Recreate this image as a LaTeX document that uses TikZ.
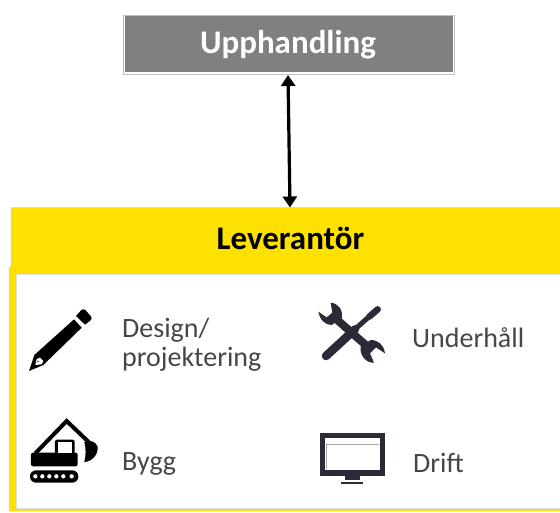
\documentclass[tikz,border=0pt]{standalone}
\usepackage{fontspec}
\setmainfont{Carlito}
\usetikzlibrary{arrows.meta}
\definecolor{yel}{HTML}{FFE100}
\definecolor{ink}{HTML}{2B2B38}
\tikzset{
  lbl/.style={font=\fontsize{28}{33}\selectfont, text=black!72, anchor=west, align=left, inner sep=0pt},
  ttl/.style={font=\fontsize{33}{38}\selectfont\bfseries, inner sep=0pt},
  link/.style={line width=3.2pt, {Triangle[length=11pt,width=14pt]}-{Triangle[length=11pt,width=14pt]}},
  zl/.style={x=0.333333pt,y=-0.333333pt,shift={(0pt,-290pt)}},
  zr/.style={x=0.333333pt,y=-0.333333pt,shift={(300pt,-290pt)}}
}
\begin{document}
\begin{tikzpicture}[x=1pt,y=-1pt]
\useasboundingbox (0,0) rectangle (560,512);
% top box
\node[draw=black!25, line width=0.7pt, fill=white, minimum width=331pt, minimum height=59pt, inner sep=0pt, anchor=north west] (upframe) at (123,15) {};
\node[fill=black!50, minimum width=328pt, minimum height=56pt, inner sep=0pt, anchor=north west] (up) at (124.5,16) {};
\node[ttl, text=white] (uptxt) at (288,45) {Upphandling};
% yellow panel
\fill[yel, draw=black!18, line width=0.5pt] (9,268) -- (11,266) -- (11,207.5) -- (561,207.5) -- (561,511) -- (9,511) -- cycle;
\node[fill=white, draw=black!12, line width=0.5pt, minimum width=546pt, minimum height=234pt, inner sep=0pt, anchor=north west] (inner) at (16,274) {};
\node[ttl, text=black] (lev) at (290.5,238) {Leverantör};
\coordinate (upb) at (288,75);
\coordinate (levt) at (290,207.5);
\draw[link] (upb) -- (levt);
% labels
\node[lbl] (t1) at (122,344.5) {Design/\\[-3.5pt]projektering};
\node[lbl] (t2) at (412,338) {Underhåll};
\node[lbl] (t3) at (122,463.5) {Bygg};
\node[lbl] (t4) at (413,463) {Drift};
% pencil
\begin{scope}[zl]
\fill[black] (87,243) -- (103,195) -- (222,88) -- (245,113) -- (130,225) -- cycle;
\fill[black] (228,78) -- (244,60) .. controls (248,57) and (252,57) .. (256,60) -- (272,78) .. controls (276,83) and (276,87) .. (272,91) -- (255,104) -- cycle;
\fill[white] (106,225) -- (110,207) -- (120,203) -- (130,213) -- (125,223) -- cycle;
\fill[black] (114,214) circle (2.5);
% excavator
\draw[black, line width=4pt, line join=miter] (106,490) -- (200,393) -- (268,458);
\fill[black] (253,456) .. controls (270,450) and (285,452) .. (293,470) .. controls (295,495) and (275,515) .. (253,516) .. controls (258,495) and (258,475) .. (253,456) -- cycle;
\fill[black, rounded corners=2pt] (93,488) rectangle (233,529);
\fill[black, rounded corners=2pt] (165,449) rectangle (224,492);
\fill[white] (175,457) rectangle (217,488);
\fill[black, rounded corners=6pt] (90,541) rectangle (235,578);
\foreach \cx in {106,127,148,169,190,215} \fill[white] (\cx,559) circle (6.5);
\end{scope}
% tools
\begin{scope}[zr]
\draw[ink, line width=8.5pt, line cap=round] (78,198) -- (165,118);
\draw[ink, line width=5pt] (160,122) -- (205,82);
\draw[ink, line width=6.5pt, line cap=round] (208,80) -- (233,58);
\draw[ink, line width=8pt] (95,75) -- (205,172);
\fill[ink] (55,65) -- (80,82) -- (97,68) -- (92,38) .. controls (115,40) and (130,60) .. (125,85) -- (95,105) .. controls (75,105) and (60,90) .. (55,65) -- cycle;
\fill[ink] (255,190) -- (228,172) -- (210,190) -- (222,218) .. controls (198,220) and (178,195) .. (182,170) -- (212,150) .. controls (235,150) and (252,165) .. (255,190) -- cycle;
% monitor
\fill[ink] (60,430) rectangle (255,558);
\fill[white] (75,443) rectangle (240,540);
\draw[black!35, line width=0.5pt] (80,463) -- (238,463) (80,463) -- (80,538);
\fill[ink] (135,558) rectangle (180,570);
\fill[ink] (124,575) rectangle (190,582);
\end{scope}
\end{tikzpicture}
\end{document}
